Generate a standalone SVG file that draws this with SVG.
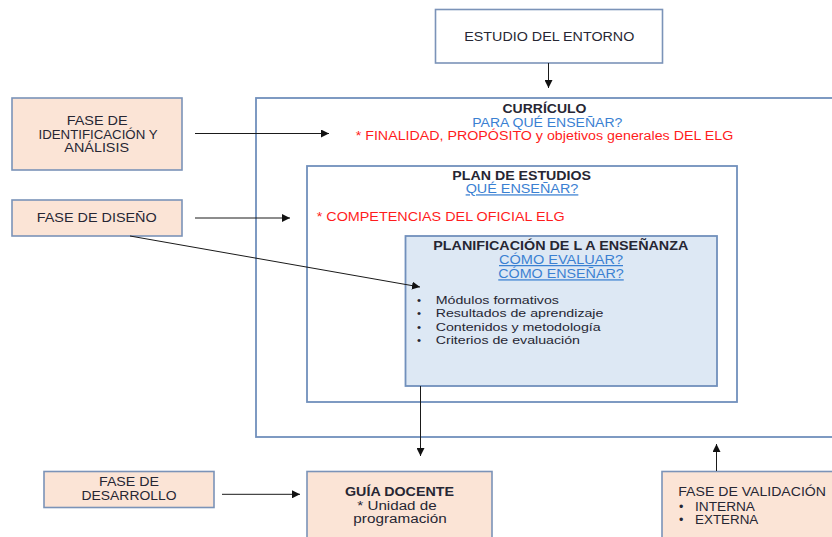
<svg xmlns="http://www.w3.org/2000/svg" width="832" height="537" viewBox="0 0 832 537">
<style>
.box{stroke:#7b93b8;stroke-width:1.6;fill:#ffffff}
.peach{fill:#fbe4d6}
.frame{stroke:#7190bc;stroke-width:1.8;fill:none}
text{font-family:"Liberation Sans",Arial,sans-serif;font-size:12.5px;fill:#262633}
.b{font-weight:bold}
.c{text-anchor:middle}
.red{fill:#ff1c1c}
.lnk{fill:#3a80d2}
.u{text-decoration:underline}
.sm{font-size:11.5px}
.con{stroke:#1a1a1a;stroke-width:1;fill:none;marker-end:url(#ah)}
</style>
<defs>
<marker id="ah" viewBox="0 0 10 10" refX="10" refY="5" markerWidth="8" markerHeight="8" markerUnits="userSpaceOnUse" orient="auto">
<path d="M0,0 L10,5 L0,10 z" fill="#111"/>
</marker>
</defs>
<rect width="832" height="537" fill="#ffffff"/>

<g id="curriculo">
<rect class="frame" x="256" y="98" width="620" height="339"/>
<text class="b c" x="544.5" y="112.5" textLength="84" lengthAdjust="spacingAndGlyphs">CURRÍCULO</text>
<text class="c lnk" x="547.3" y="126.5" textLength="150" lengthAdjust="spacingAndGlyphs">PARA QUÉ ENSEÑAR?</text>
<text class="red" x="355.7" y="139.5" textLength="377.6" lengthAdjust="spacingAndGlyphs">* FINALIDAD, PROPÓSITO y objetivos generales DEL ELG</text>
</g>

<g id="plan-estudios">
<rect class="frame" x="307" y="166" width="430" height="236"/>
<text class="b c" x="521.7" y="180" textLength="138.7" lengthAdjust="spacingAndGlyphs">PLAN DE ESTUDIOS</text>
<text class="c lnk u" x="522" y="193.3" textLength="112.7" lengthAdjust="spacingAndGlyphs">QUÉ ENSEÑAR?</text>
<text class="red" x="316.7" y="220.7" textLength="248" lengthAdjust="spacingAndGlyphs">* COMPETENCIAS DEL OFICIAL ELG</text>
</g>

<g id="planificacion">
<rect class="frame" x="405.5" y="236" width="311.5" height="150" style="fill:#dde8f4"/>
<text class="b c" x="560.8" y="250" textLength="255" lengthAdjust="spacingAndGlyphs">PLANIFICACIÓN DE L A ENSEÑANZA</text>
<text class="c lnk u" x="561" y="264" textLength="124" lengthAdjust="spacingAndGlyphs">CÓMO EVALUAR?</text>
<text class="c lnk u" x="561" y="278.3" textLength="125.5" lengthAdjust="spacingAndGlyphs">CÓMO ENSEÑAR?</text>
<text class="sm" x="417" y="304">•</text>
<text class="sm" x="417" y="317.3">•</text>
<text class="sm" x="417" y="330.7">•</text>
<text class="sm" x="417" y="344">•</text>
<text class="sm" x="435.7" y="304" textLength="123.3" lengthAdjust="spacingAndGlyphs">Módulos formativos</text>
<text class="sm" x="435.7" y="317.3" textLength="167.7" lengthAdjust="spacingAndGlyphs">Resultados de aprendizaje</text>
<text class="sm" x="435.7" y="330.7" textLength="165" lengthAdjust="spacingAndGlyphs">Contenidos y metodología</text>
<text class="sm" x="435.7" y="344" textLength="144.3" lengthAdjust="spacingAndGlyphs">Criterios de evaluación</text>
</g>

<g id="estudio-entorno">
<rect class="box" x="435.5" y="9.5" width="227" height="53.5"/>
<text class="c" x="549.3" y="41.3" textLength="170" lengthAdjust="spacingAndGlyphs">ESTUDIO DEL ENTORNO</text>
</g>

<g id="fase-identificacion">
<rect class="box peach" x="12" y="98" width="170" height="72"/>
<text class="c" x="97.2" y="125" textLength="61" lengthAdjust="spacingAndGlyphs">FASE DE</text>
<text class="c" x="98" y="138.7" textLength="119" lengthAdjust="spacingAndGlyphs">IDENTIFICACIÓN Y</text>
<text class="c" x="96.7" y="152.2" textLength="64.7" lengthAdjust="spacingAndGlyphs">ANÁLISIS</text>
</g>

<g id="fase-diseno">
<rect class="box peach" x="12" y="200" width="170" height="36"/>
<text class="c" x="96.7" y="222.3" textLength="120" lengthAdjust="spacingAndGlyphs">FASE DE DISEÑO</text>
</g>

<g id="fase-desarrollo">
<rect class="box peach" x="44" y="471.5" width="170" height="36"/>
<text class="c" x="129" y="485.5" textLength="60" lengthAdjust="spacingAndGlyphs">FASE DE</text>
<text class="c" x="129" y="499.5" textLength="95" lengthAdjust="spacingAndGlyphs">DESARROLLO</text>
</g>

<g id="guia-docente">
<rect class="box peach" x="307" y="471.5" width="185" height="80"/>
<text class="b c" x="399.5" y="496" textLength="109" lengthAdjust="spacingAndGlyphs">GUÍA DOCENTE</text>
<text class="c" x="397" y="510" textLength="79.3" lengthAdjust="spacingAndGlyphs">* Unidad de</text>
<text class="c" x="400" y="523.3" textLength="93.3" lengthAdjust="spacingAndGlyphs">programación</text>
</g>

<g id="fase-validacion">
<rect class="box peach" x="662" y="471.5" width="200" height="80"/>
<text x="678.3" y="495.7" textLength="147.7" lengthAdjust="spacingAndGlyphs">FASE DE VALIDACIÓN</text>
<text x="679" y="511">•</text>
<text x="679" y="524.3">•</text>
<text x="695" y="511" textLength="60" lengthAdjust="spacingAndGlyphs">INTERNA</text>
<text x="695" y="524.3" textLength="63.3" lengthAdjust="spacingAndGlyphs">EXTERNA</text>
</g>

<g id="connectors">
<line class="con" x1="548.5" y1="63" x2="548.5" y2="88"/>
<line class="con" x1="195" y1="133.5" x2="329" y2="133.5"/>
<line class="con" x1="195" y1="218" x2="290" y2="218"/>
<line class="con" x1="130" y1="236" x2="420" y2="287"/>
<line class="con" x1="420.5" y1="386" x2="420.5" y2="456"/>
<line class="con" x1="222" y1="494.3" x2="300" y2="494.3"/>
<line class="con" x1="716.5" y1="471" x2="716.5" y2="444"/>
</g>
</svg>
